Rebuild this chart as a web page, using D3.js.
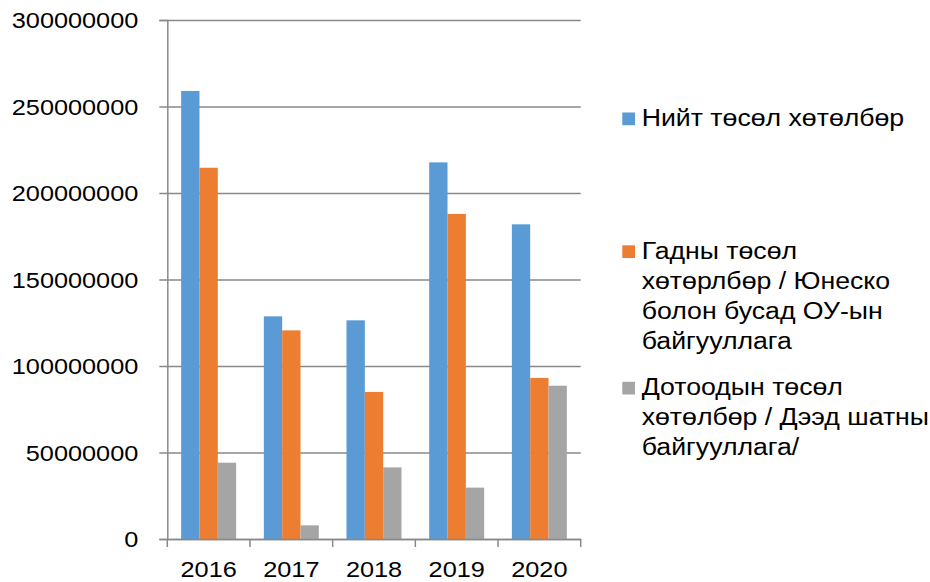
<!DOCTYPE html>
<html>
<head>
  <meta charset="UTF-8">
  <style>
    body { margin: 0; background: #fff; }
    svg text { font-family: "Liberation Sans", Arial, sans-serif; fill: #000; }
  </style>
</head>
<body>
  <div id="chart"></div>
  <script src="https://d3js.org/d3.v7.min.js"></script>
  <script>
    const years = ["2016", "2017", "2018", "2019", "2020"];
    const total = [259000000, 128700000, 126400000, 217700000, 181900000];
    const external = [214600000, 120600000, 85000000, 187900000, 93100000];
    const internal = [44100000, 7900000, 41400000, 29700000, 88600000];
    const yTicks = [0, 50000000, 100000000, 150000000, 200000000, 250000000, 300000000];
    const seriesNames = [
      ["Нийт төсөл хөтөлбөр"],
      ["Гадны төсөл", "хөтөрлбөр / Юнеско", "болон бусад ОУ-ын", "байгууллага"],
      ["Дотоодын төсөл", "хөтөлбөр / Дээд шатны", "байгууллага/"]
    ];
    const colors = ["#5B9BD5", "#ED7D31", "#A5A5A5"];
    const series = [total, external, internal];

    const width = 930, height = 582;
    const plotLeft = 167.3, plotRight = 580.7, plotTop = 20, plotBottom = 539;
    const sx = 1.15; // text in the original is stretched horizontally
    const gridColor = "#898989";

    const svg = d3.select("#chart").append("svg")
      .attr("width", width)
      .attr("height", height);

    const x0 = d3.scaleBand().domain(years).range([plotLeft, plotRight])
      .paddingInner(0.335).paddingOuter(0.1675);
    const x1 = d3.scaleBand().domain([0, 1, 2]).range([0, x0.bandwidth()]);
    const y = d3.scaleLinear().domain([0, 300000000]).range([plotBottom, plotTop]);

    // grid lines
    const grid = svg.append("g")
      .attr("transform", "translate(" + plotLeft + ",0)")
      .call(d3.axisLeft(y).tickValues(yTicks).tickSize(-(plotRight - plotLeft)).tickFormat(""));
    grid.select(".domain").remove();
    grid.selectAll("line").attr("stroke", gridColor).attr("stroke-width", 1.5);

    // bars
    years.forEach(function(yr, i) {
      const g = svg.append("g").attr("transform", "translate(" + x0(yr) + ",0)");
      series.forEach(function(s, k) {
        g.append("rect")
          .attr("x", x1(k))
          .attr("y", y(s[i]))
          .attr("width", x1.bandwidth())
          .attr("height", plotBottom - y(s[i]))
          .attr("fill", colors[k]);
      });
    });

    // y axis
    const yAxis = svg.append("g")
      .attr("transform", "translate(" + plotLeft + ",0)")
      .call(d3.axisLeft(y).tickValues(yTicks).tickSize(8).tickFormat(d3.format("d")));
    yAxis.selectAll("line, path").attr("stroke", gridColor).attr("stroke-width", 1.5);
    yAxis.selectAll("text")
      .attr("x", -29 / sx)
      .attr("dy", "0.35em")
      .attr("transform", "scale(" + sx + ",1)")
      .style("font-size", "22px")
      .style("font-family", "'Liberation Sans', Arial, sans-serif")
      .attr("fill", "#000");

    // x axis
    const xAxis = svg.append("g")
      .attr("transform", "translate(0," + plotBottom + ")")
      .call(d3.axisBottom(x0).tickSize(0).tickSizeOuter(0));
    xAxis.select(".domain").attr("stroke", gridColor).attr("stroke-width", 1.5);
    xAxis.selectAll(".tick text")
      .attr("y", 38.4)
      .attr("dy", 0)
      .attr("transform", "scale(" + sx + ",1)")
      .style("font-size", "22px")
      .style("font-family", "'Liberation Sans', Arial, sans-serif")
      .attr("fill", "#000");
    // category boundary ticks
    const bounds = years.map(function(d) { return x0(d) - x0.step() * 0.1675; }).concat([plotRight]);
    xAxis.selectAll(".cat-tick").data(bounds).enter().append("line")
      .attr("x1", function(d) { return d; })
      .attr("x2", function(d) { return d; })
      .attr("y1", 0).attr("y2", 8)
      .attr("stroke", gridColor).attr("stroke-width", 1.5);

    // legend
    const legendBase = [125.7, 258.5, 395];
    const legend = svg.append("g");
    seriesNames.forEach(function(lines, k) {
      legend.append("rect")
        .attr("x", 622.3).attr("y", legendBase[k] - 13.2)
        .attr("width", 12.7).attr("height", 12.7)
        .attr("fill", colors[k]);
      lines.forEach(function(line, j) {
        legend.append("text")
          .attr("transform", "translate(641.7," + (legendBase[k] + j * 30) + ") scale(1.16,1)")
          .style("font-size", "23px")
          .text(line);
      });
    });
  </script>
</body>
</html>
